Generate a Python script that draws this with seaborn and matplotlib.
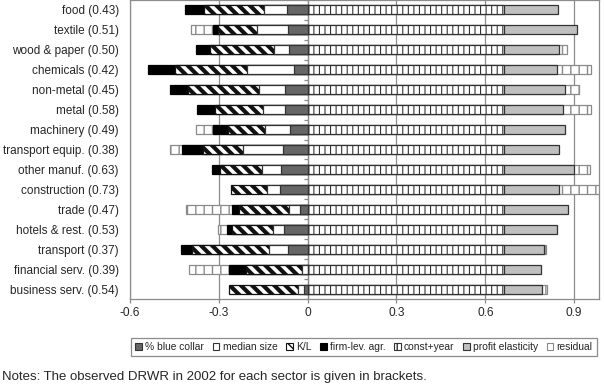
import numpy as np
import pandas as pd
import matplotlib
matplotlib.use('Agg')
import matplotlib.pyplot as plt
import seaborn as sns
from matplotlib.patches import Patch

# Sectors (observed DRWR 2002 in brackets)
sectors = ['food (0.43)', 'textile (0.51)', 'wood & paper (0.50)', 'chemicals (0.42)',
           'non-metal (0.45)', 'metal (0.58)', 'machinery (0.49)', 'transport equip. (0.38)',
           'other manuf. (0.63)', 'construction (0.73)', 'trade (0.47)', 'hotels & rest. (0.53)',
           'transport (0.37)', 'financial serv. (0.39)', 'business serv. (0.54)']

# Contributions
blue_collar = [-0.071, -0.066, -0.063, -0.046, -0.078, -0.078, -0.060, -0.083,
               -0.091, -0.093, -0.026, -0.080, -0.066, 0.0, -0.012]
median_size = [-0.077, -0.106, -0.051, -0.159, -0.087, -0.072, -0.084, -0.137,
               -0.064, -0.043, -0.037, -0.036, -0.064, -0.019, -0.019]
kl_ratio = [-0.202, -0.132, -0.216, -0.243, -0.239, -0.164, -0.125, -0.135,
            -0.142, -0.124, -0.169, -0.138, -0.262, -0.188, -0.236]
firm_agr = [-0.064, -0.017, -0.047, -0.091, -0.061, -0.061, -0.051, -0.071,
            -0.025, 0.0, -0.023, -0.019, -0.036, -0.060, 0.0]
const_year = [0.664, 0.664, 0.664, 0.664, 0.664, 0.664, 0.664, 0.664,
              0.664, 0.664, 0.664, 0.664, 0.664, 0.664, 0.664]
profit_elast = [0.183, 0.245, 0.186, 0.178, 0.206, 0.197, 0.206, 0.185,
                0.234, 0.185, 0.215, 0.178, 0.135, 0.124, 0.129]
residual = [0.0, -0.073, 0.025, 0.115, 0.045, 0.095, -0.056, -0.039,
            0.054, 0.141, -0.157, -0.031, 0.005, -0.133, 0.017]

series = ['% blue collar', 'median size', 'K/L', 'firm-lev. agr.',
          'const+year', 'profit elasticity', 'residual']
df = pd.DataFrame({'sector': sectors, '% blue collar': blue_collar, 'median size': median_size,
                   'K/L': kl_ratio, 'firm-lev. agr.': firm_agr, 'const+year': const_year,
                   'profit elasticity': profit_elast, 'residual': residual})

# style per series: face, edge, hatch, hatch linewidth
styles = {
    '% blue collar': ('#666666', '#333333', '', 1.0),
    'median size': ('white', '#333333', '', 1.0),
    'K/L': ('white', '#111111', '\\\\\\', 3.0),
    'firm-lev. agr.': ('black', 'black', '', 1.0),
    'const+year': ('white', '#333333', '|||', 0.8),
    'profit elasticity': ('#c0c0c0', '#333333', '', 1.0),
    'residual': ('white', '#8a8a8a', '||', 1.0),
}

# cumulative end of each series on its own side (positives right, negatives left)
pos = np.zeros(len(df))
neg = np.zeros(len(df))
ends = {}
for s in series:
    v = df[s].to_numpy()
    pos = pos + np.where(v > 0, v, 0)
    neg = neg + np.where(v < 0, v, 0)
    ends[s] = np.where(v > 0, pos, np.where(v < 0, neg, 0.0))

sns.set_style('white')
plt.rcParams['font.family'] = ['Liberation Sans', 'DejaVu Sans']
plt.rcParams['hatch.linewidth'] = 1.0

fig = plt.figure(figsize=(6.04, 3.86), dpi=100)
ax = fig.add_axes([130 / 604, 1 - 299 / 386, 469 / 604, 299 / 386])

# grid under the bars
ax.set_axisbelow(True)
ax.xaxis.grid(True, color='#8c8c8c', linewidth=0.9)

# draw outermost series first, inner ones on top
for s in reversed(series):
    face, edge, hatch, hlw = styles[s]
    n_before = len(ax.patches)
    plot_df = pd.DataFrame({'sector': df['sector'], 'end': ends[s]})
    sns.barplot(data=plot_df, x='end', y='sector', orient='h', color=face, saturation=1,
                edgecolor=edge, linewidth=0.9, hatch=hatch, width=0.45, errorbar=None, ax=ax)
    for p in ax.patches[n_before:]:
        p.set_facecolor(face)
        if hasattr(p, 'set_hatch_linewidth'):
            p.set_hatch_linewidth(hlw)

# axis at zero with small category ticks
ax.axvline(0, color='#8c8c8c', linewidth=0.9, zorder=0.5)
ax.hlines(np.arange(len(sectors) + 1) - 0.5, -0.012, 0, color='#8c8c8c', linewidth=0.9)

ax.set_xlim(-0.6, 0.984)
ax.set_ylim(len(sectors) - 0.5, -0.5)
ax.set_xticks([-0.6, -0.3, 0, 0.3, 0.6, 0.9])
ax.set_xticklabels(['-0.6', '-0.3', '0', '0.3', '0.6', '0.9'])
ax.set_xlabel('')
ax.set_ylabel('')
ax.tick_params(axis='x', length=3, width=0.9, color='#8c8c8c', pad=3, labelsize=8.6, bottom=True)
ax.tick_params(axis='y', length=0, pad=8, labelsize=8.5)
for sp in ax.spines.values():
    sp.set_visible(True)
    sp.set_color('#8c8c8c')
    sp.set_linewidth(0.9)

handles = [Patch(facecolor=styles[s][0], edgecolor=styles[s][1], hatch=styles[s][2],
                 linewidth=0.8, label=s) for s in series]
leg = fig.legend(handles=handles, loc='center', bbox_to_anchor=(364 / 604, 1 - 347 / 386),
                 ncol=7, fontsize=7.4, handlelength=0.65, handleheight=0.65, handletextpad=0.3,
                 columnspacing=0.85, borderpad=0.4, borderaxespad=0, fancybox=False, framealpha=1)
leg.get_frame().set_edgecolor('#8c8c8c')
leg.get_frame().set_linewidth(0.9)

fig.text(2 / 604, 1 - 377 / 386, 'Notes: The observed DRWR in 2002 for each sector is given in brackets.',
         fontsize=9.5, va='center', ha='left')

fig.savefig('out.png', dpi=100)
plt.close(fig)
